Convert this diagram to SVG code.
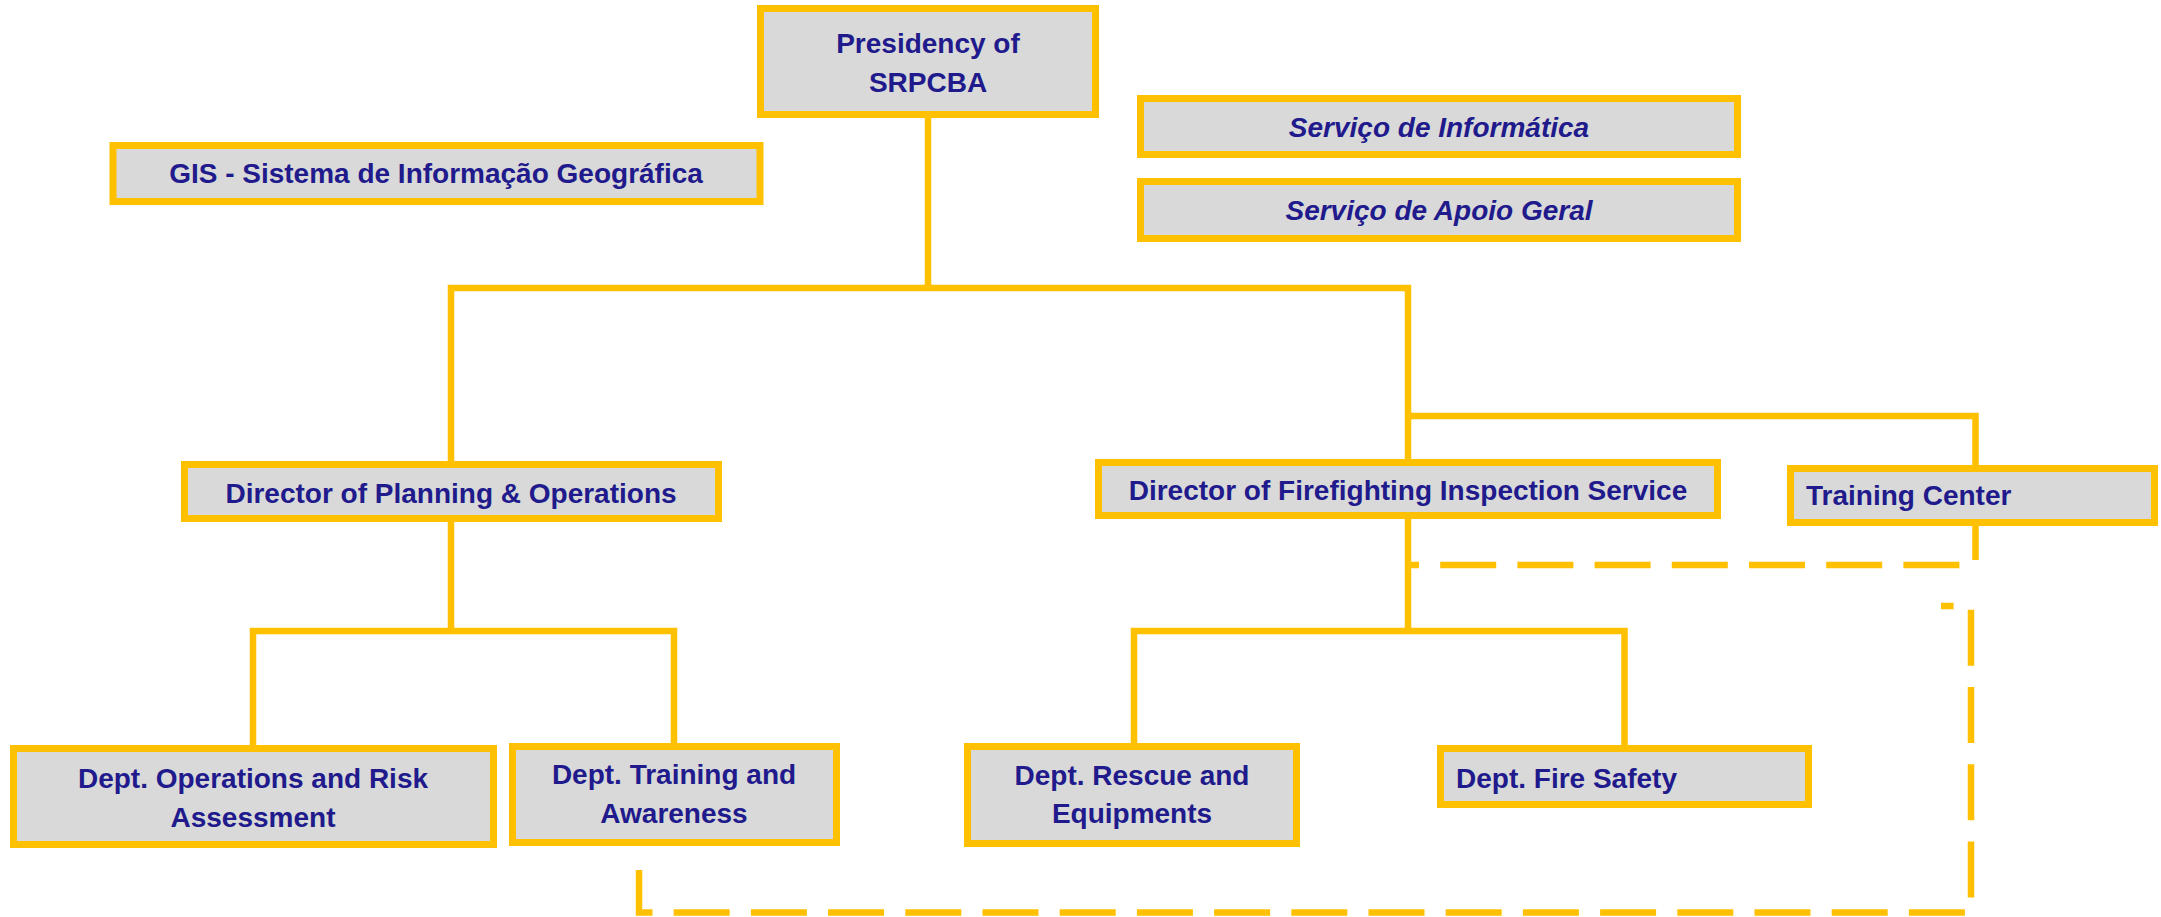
<svg xmlns="http://www.w3.org/2000/svg" width="2161" height="917" viewBox="0 0 2161 917">
<style>
.box{fill:#D9D9D9;stroke:#FFC000;stroke-width:7}
.t{font-family:"Liberation Sans",Arial,sans-serif;font-weight:bold;font-size:28px;fill:#201A8C;text-anchor:middle}
.s{text-anchor:start}
.i{font-style:italic}
.c{fill:none;stroke:#FFC000;stroke-width:6.5;stroke-linejoin:miter}
.d{fill:none;stroke:#FFC000;stroke-width:6.5;stroke-dasharray:56 21.2}
</style>
<rect width="2161" height="917" fill="#FFFFFF"/>
<g id="connectors">
<path class="c" d="M451,461 V288 H1408 V459 M928,118 V288"/>
<path class="c" d="M1408,416 H1975.5 V465"/>
<path class="c" d="M253,745 V631 H674 V743 M451,522 V631"/>
<path class="c" d="M1134,743 V631 H1624.5 V745 M1408,519 V631"/>
<path class="d" d="M1408,565 H1975.5 V526" stroke-dashoffset="45"/>
<path class="d" d="M639,870 V912.5 H1971 V606 H1941"/>
</g>
<g id="presidency">
<rect class="box" x="760.5" y="8.5" width="335" height="106"/>
<text class="t" x="928" y="53">Presidency of</text>
<text class="t" x="928" y="92">SRPCBA</text>
</g>
<g id="gis">
<rect class="box" x="113" y="145.5" width="647" height="56"/>
<text class="t" x="436" y="183">GIS - Sistema de Informação Geográfica</text>
</g>
<g id="servico-informatica">
<rect class="box" x="1140.5" y="98.5" width="597" height="56"/>
<text class="t i" x="1439" y="137">Serviço de Informática</text>
</g>
<g id="servico-apoio">
<rect class="box" x="1140.5" y="181.5" width="597" height="57"/>
<text class="t i" x="1439" y="220">Serviço de Apoio Geral</text>
</g>
<g id="director-planning">
<rect class="box" x="184.5" y="464.5" width="534" height="54"/>
<text class="t" x="451" y="503">Director of Planning &amp; Operations</text>
</g>
<g id="director-firefighting">
<rect class="box" x="1098.5" y="462.5" width="619" height="53"/>
<text class="t" x="1408" y="500">Director of Firefighting Inspection Service</text>
</g>
<g id="training-center">
<rect class="box" x="1790.5" y="468.5" width="364" height="54"/>
<text class="t s" x="1806" y="505">Training Center</text>
</g>
<g id="dept-operations">
<rect class="box" x="13.5" y="748.5" width="480" height="96"/>
<text class="t" x="253" y="788">Dept. Operations and Risk</text>
<text class="t" x="253" y="827">Assessment</text>
</g>
<g id="dept-training">
<rect class="box" x="512.5" y="746.5" width="324" height="96"/>
<text class="t" x="674" y="784">Dept. Training and</text>
<text class="t" x="674" y="823">Awareness</text>
</g>
<g id="dept-rescue">
<rect class="box" x="967.5" y="746.5" width="329" height="97"/>
<text class="t" x="1132" y="785">Dept. Rescue and</text>
<text class="t" x="1132" y="823">Equipments</text>
</g>
<g id="dept-fire-safety">
<rect class="box" x="1440.5" y="748.5" width="368" height="56"/>
<text class="t s" x="1456" y="788">Dept. Fire Safety</text>
</g>
</svg>
